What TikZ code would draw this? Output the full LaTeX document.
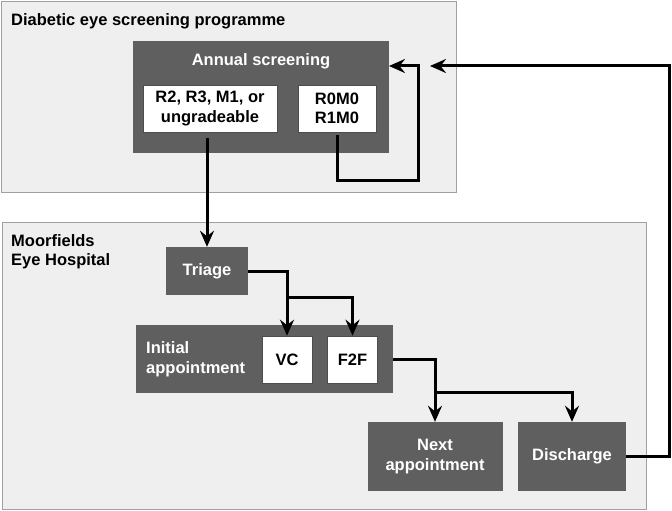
\documentclass[tikz,border=0pt]{standalone}
\usepackage{fontspec}
\setmainfont{Liberation Sans}
\usetikzlibrary{
  arrows.meta,
  positioning,
  }
\definecolor{panelfill}{HTML}{EFEFEF}
\definecolor{panelline}{HTML}{A0A0A0}
\definecolor{stagefill}{HTML}{5F5F5F}

\begin{document}
\begin{tikzpicture}[x=1pt, y=-1pt,
    every node/.style={font=\bfseries\fontsize{16.5}{19.5}\selectfont, inner sep=0pt},
    panel/.style={draw=panelline, fill=panelfill, line width=0.8pt},
    stage/.style={fill=stagefill, text=white, align=center},
    grade/.style={fill=white, draw=black!70, line width=0.6pt, align=center},
    flow/.style={line width=3pt, -{Stealth[length=16pt, width=14pt, inset=5.5pt]}},
    ]
    \useasboundingbox (0,0) rectangle (672,511);
    % screening programme
    \node[panel, minimum width=455pt, minimum height=191pt] (programme) at (228.5,96.5) {};
    \node[anchor=west] (programmetitle) at (11,21) {Diabetic eye screening programme};
    \node[stage, minimum width=256pt, minimum height=112pt] (annual) at (261,97) {};
    \node[text=white] (annualtitle) at (261,61) {Annual screening};
    \node[grade, minimum width=134pt, minimum height=47pt] (referable) at (210,108.5) {R2, R3, M1, or\\ungradeable};
    \node[grade, minimum width=78pt, minimum height=47pt] (background) at (337,108.5) {R0M0\\R1M0};
    % hospital
    \node[panel, minimum width=644pt, minimum height=287pt] (hospital) at (324,365.5) {};
    \node[anchor=west, align=left] (hospitaltitle) at (11,251.5) {Moorfields\\Eye Hospital};
    \node[stage, minimum width=82pt, minimum height=48pt] (triage) at (207,271) {Triage};
    \node[stage, minimum width=257pt, minimum height=68pt] (initial) at (264.5,359) {};
    \node[anchor=west, align=left, text=white] (initialtitle) at (146,359) {Initial\\appointment};
    \node[grade, minimum width=50pt, minimum height=47pt] (vc) at (287,359.5) {VC};
    \node[grade, minimum width=50pt, minimum height=47pt] (f2f) at (352.5,359.5) {F2F};
    \node[stage, minimum width=135pt, minimum height=69pt] (next) at (435,456.5) {Next\\appointment};
    \node[stage, minimum width=108pt, minimum height=69pt] (discharge) at (572,456.5) {Discharge};
    % connectors
    \coordinate (loop) at (418,180);
    \coordinate (annualin) at (389,66);
    \coordinate (back) at (669,66);
    \coordinate (programmein) at (430,66);
    \coordinate (triagesplit) at (287,297);
    \coordinate (initialsplit) at (435,392);
    \draw[flow] ([yshift=-6pt]referable.south -| triage.north) -- (triage.north);
    \draw[flow] ([yshift=-3pt]background.south) |- (loop) |- (annualin);
    \draw[flow] (discharge.east) -| (back) -- (programmein);
    \draw[flow] (triage.east) -| (vc.north);
    \draw[flow] (triagesplit) -| (f2f.north);
    \draw[flow] (initial.east) -| (next.north);
    \draw[flow] (initialsplit) -| (discharge.north);
\end{tikzpicture}
\end{document}
